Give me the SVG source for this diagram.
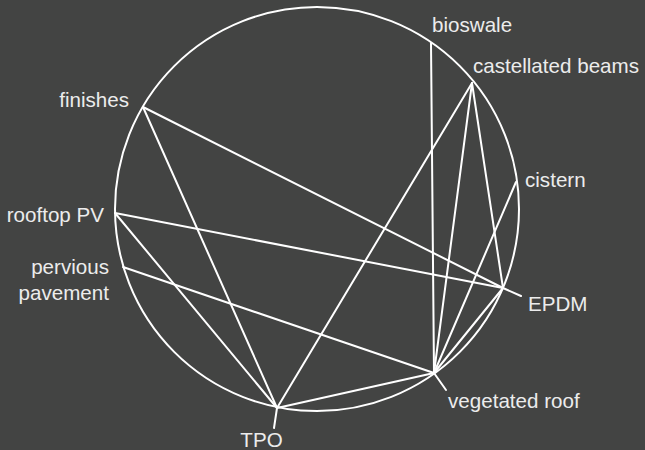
<svg xmlns="http://www.w3.org/2000/svg" width="645" height="450" viewBox="0 0 645 450">
<style>
.bg{fill:#434443}
.ln{stroke:#ffffff;stroke-width:2;fill:none;stroke-linecap:round}
.lb{font-family:"Liberation Sans",Arial,sans-serif;font-size:20.6px;fill:#ececec}
</style>
<rect class="bg" x="0" y="0" width="645" height="450"/>
<circle class="ln" cx="317" cy="209" r="202"/>
<g id="connectors">
<line class="ln" x1="431" y1="43" x2="434" y2="373"/>
<line class="ln" x1="472" y1="83" x2="277" y2="408"/>
<line class="ln" x1="472" y1="83" x2="434" y2="373"/>
<line class="ln" x1="472" y1="83" x2="503" y2="288"/>
<line class="ln" x1="516" y1="182" x2="434" y2="373"/>
<line class="ln" x1="503" y1="288" x2="434" y2="373"/>
<line class="ln" x1="143" y1="107" x2="503" y2="288"/>
<line class="ln" x1="143" y1="107" x2="277" y2="408"/>
<line class="ln" x1="115" y1="213" x2="503" y2="288"/>
<line class="ln" x1="115" y1="213" x2="277" y2="408"/>
<line class="ln" x1="123" y1="267" x2="434" y2="373"/>
<line class="ln" x1="277" y1="408" x2="434" y2="373"/>
</g>
<g id="bioswale"><text class="lb" x="432" y="32">bioswale</text></g>
<g id="castellated-beams"><text class="lb" x="473" y="73">castellated beams</text></g>
<g id="cistern"><text class="lb" x="525" y="187">cistern</text></g>
<g id="EPDM"><line class="ln" x1="503" y1="288" x2="521" y2="296"/><text class="lb" x="528" y="311">EPDM</text></g>
<g id="vegetated-roof"><line class="ln" x1="434" y1="373" x2="446" y2="390"/><text class="lb" x="448" y="408">vegetated roof</text></g>
<g id="TPO"><line class="ln" x1="277" y1="408" x2="274" y2="428"/><text class="lb" x="261.5" y="447" text-anchor="middle">TPO</text></g>
<g id="pervious-pavement"><text class="lb" x="109" y="274" text-anchor="end">pervious</text><text class="lb" x="109" y="300" text-anchor="end">pavement</text></g>
<g id="rooftop-PV"><text class="lb" x="104" y="222" text-anchor="end">rooftop PV</text></g>
<g id="finishes"><text class="lb" x="129" y="107" text-anchor="end">finishes</text></g>
</svg>
